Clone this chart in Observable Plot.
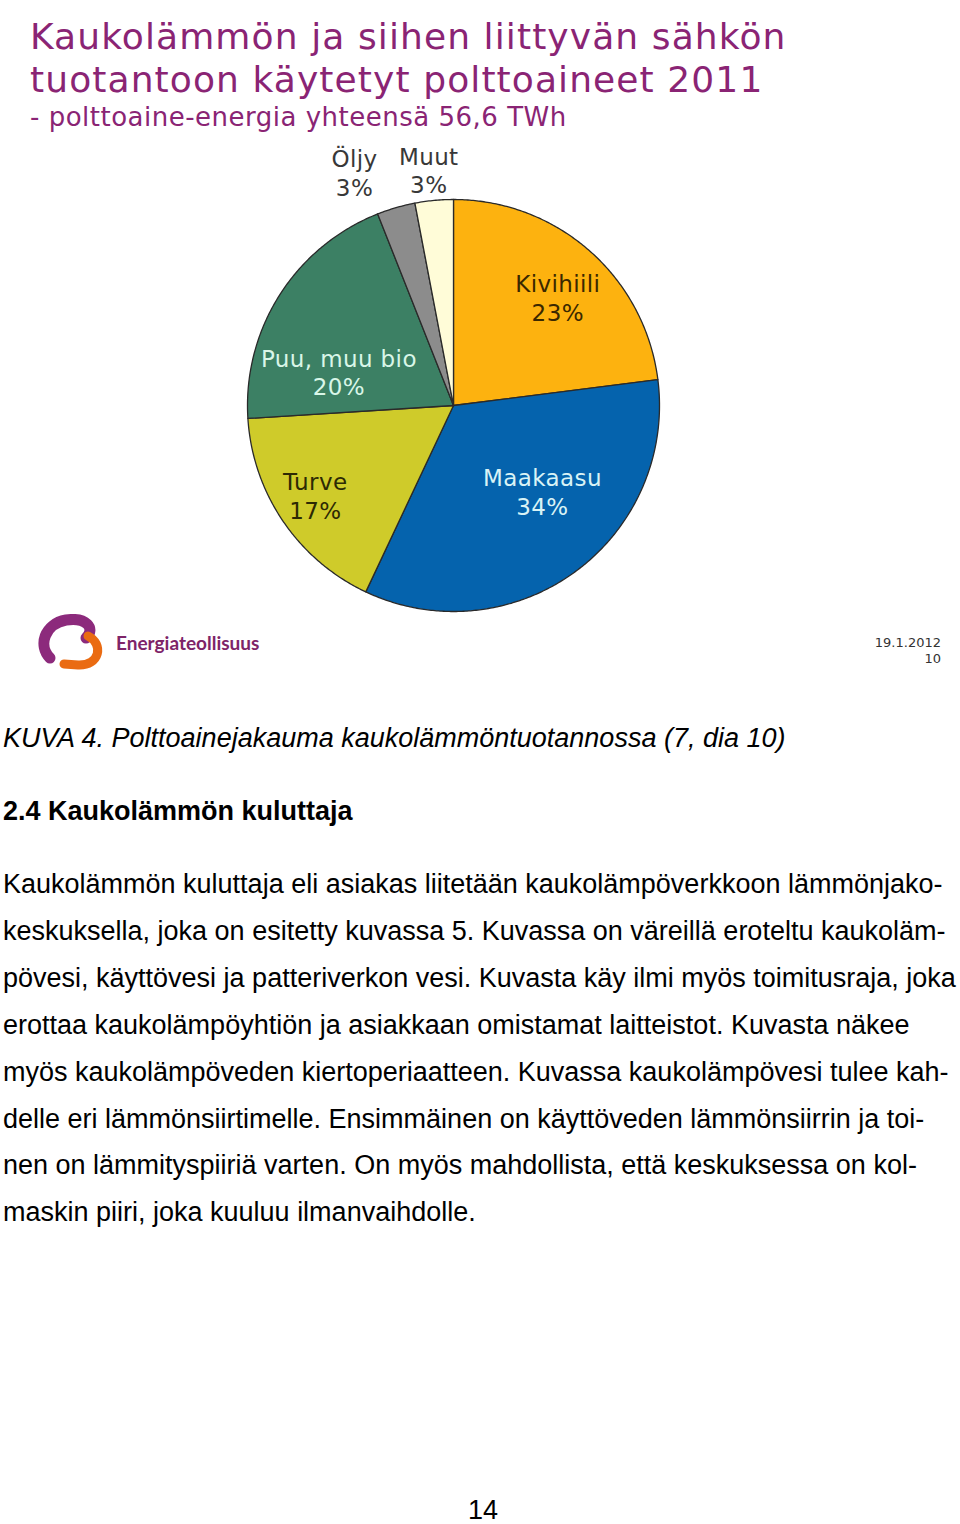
<!DOCTYPE html>
<html><head><meta charset="utf-8">
<script src="https://cdn.jsdelivr.net/npm/d3@7"></script>
<script src="https://cdn.jsdelivr.net/npm/@observablehq/plot@0.6"></script>
<style>
body{margin:0;background:#fff;}
#page{position:relative;width:960px;height:1524px;overflow:hidden;background:#fff;}
.t{position:absolute;white-space:pre;margin:0;}
.doc{font-family:"Liberation Sans",Arial,sans-serif;color:#000;}
#chart text{letter-spacing:0.4px;}
</style></head><body><div id="page">
<div class="t" style="left:30px;top:15px;font-family:'DejaVu Sans';font-size:36px;letter-spacing:1.1px;line-height:43px;color:#8a2474;">Kaukolämmön ja siihen liittyvän sähkön
tuotantoon käytetyt polttoaineet 2011</div>
<div class="t" style="left:30px;top:102px;font-family:'DejaVu Sans';font-size:26px;letter-spacing:0.5px;line-height:30px;color:#8a2474;">- polttoaine-energia yhteensä 56,6 TWh</div>
<div id="chart" style="position:absolute;left:0;top:140px;"></div>
<svg style="position:absolute;left:36px;top:614px;" width="72" height="58" viewBox="0 0 72 58">
  <path d="M 14 44 C 2 32, 8 10, 30 6 C 50 3, 60 14, 50 24" fill="none" stroke="#8c2a7c" stroke-width="11" stroke-linecap="round"/>
  <path d="M 52 22 C 68 30, 64 52, 42 51 L 28 50" fill="none" stroke="#ea6b12" stroke-width="9" stroke-linecap="round"/>
</svg>
<div class="t" style="left:116px;top:631px;font-family:Lato;font-weight:bold;font-size:19px;color:#7e2468;">Energiateollisuus</div>
<div class="t" style="right:19px;top:635px;font-family:'DejaVu Sans';font-size:13px;line-height:16px;color:#333;text-align:right;">19.1.2012
10</div>
<div class="t doc" style="left:3px;top:722px;font-size:27px;line-height:32px;font-style:italic;">KUVA 4. Polttoainejakauma kaukolämmöntuotannossa (7, dia 10)</div>
<div class="t doc" style="left:3px;top:795px;font-size:27px;line-height:32px;font-weight:bold;">2.4 Kaukolämmön kuluttaja</div>
<div class="t doc" style="left:3px;top:861px;font-size:27px;line-height:46.9px;">Kaukolämmön kuluttaja eli asiakas liitetään kaukolämpöverkkoon lämmönjako-
keskuksella, joka on esitetty kuvassa 5. Kuvassa on väreillä eroteltu kaukoläm-
pövesi, käyttövesi ja patteriverkon vesi. Kuvasta käy ilmi myös toimitusraja, joka
erottaa kaukolämpöyhtiön ja asiakkaan omistamat laitteistot. Kuvasta näkee
myös kaukolämpöveden kiertoperiaatteen. Kuvassa kaukolämpövesi tulee kah-
delle eri lämmönsiirtimelle. Ensimmäinen on käyttöveden lämmönsiirrin ja toi-
nen on lämmityspiiriä varten. On myös mahdollista, että keskuksessa on kol-
maskin piiri, joka kuuluu ilmanvaihdolle.</div>
<div class="t doc" style="left:0;width:966px;text-align:center;top:1494px;font-size:27px;line-height:32px;">14</div>
</div>
<script>
// Data
const fuels  = ["Kivihiili", "Maakaasu", "Turve", "Puu, muu bio", "Öljy", "Muut"];
const shares = [23, 34, 17, 20, 3, 3];

// Styles
const palette = ["#fdb20f", "#0563ad", "#cfcb2a", "#3c8064", "#8c8c8c", "#fffcd8"];
const labelInk = {"Kivihiili": "#3a2800", "Maakaasu": "#d9f3f6", "Turve": "#2d2a04",
  "Puu, muu bio": "#d9f6e8", "Öljy": "#383838", "Muut": "#383838"};
// label placement (radius in pie radii, angle shift in degrees from slice middle)
const labelPlace = {"Kivihiili": [0.73, 2.5], "Maakaasu": [0.6, -10], "Turve": [0.8, 1.2],
  "Puu, muu bio": [0.58, -16], "Öljy": [1.23, -6.8], "Muut": [1.15, -0.6]};

// Layout
const W = 960, H = 560, cx = 453, cy = 265, R = 206;

const rows = fuels.map((name, i) => ({name, share: shares[i]}));
const arcs = d3.pie().sort(null).value(d => d.share)(rows);

const pts = [];
for (const a of arcs) {
  const n = Math.max(2, Math.ceil((a.endAngle - a.startAngle) / (Math.PI / 360)));
  pts.push({name: a.data.name, x: 0, y: 0});
  for (let i = 0; i <= n; i++) {
    const t = a.startAngle + (a.endAngle - a.startAngle) * i / n;
    pts.push({name: a.data.name, x: Math.sin(t), y: Math.cos(t)});
  }
  pts.push({name: a.data.name, x: 0, y: 0});
}

const labels = arcs.map(a => {
  const [r, shift] = labelPlace[a.data.name];
  const t = (a.startAngle + a.endAngle) / 2 + shift * Math.PI / 180;
  return {name: a.data.name, text: `${a.data.name}\n${a.data.share}%`, x: r * Math.sin(t), y: r * Math.cos(t)};
});

const textMarks = labels.map(l => Plot.text([l], {
  x: "x", y: "y", text: "text", fill: labelInk[l.name],
  fontSize: 23, fontFamily: "DejaVu Sans", lineHeight: 1.24
}));

const chart = Plot.plot({
  width: W, height: H,
  marginTop: 0, marginRight: 0, marginBottom: 0, marginLeft: 0,
  x: {domain: [-cx / R, (W - cx) / R], range: [0, W], axis: null},
  y: {domain: [cy / R, -(H - cy) / R], range: [0, H], axis: null},
  color: {domain: fuels, range: palette},
  style: {background: "transparent"},
  marks: [
    Plot.line(pts, {x: "x", y: "y", z: "name", fill: "name", stroke: "#2a2a2a", strokeWidth: 1.3, strokeLinejoin: "round"}),
    ...textMarks
  ]
});
document.getElementById("chart").appendChild(chart);
</script>
</body></html>
